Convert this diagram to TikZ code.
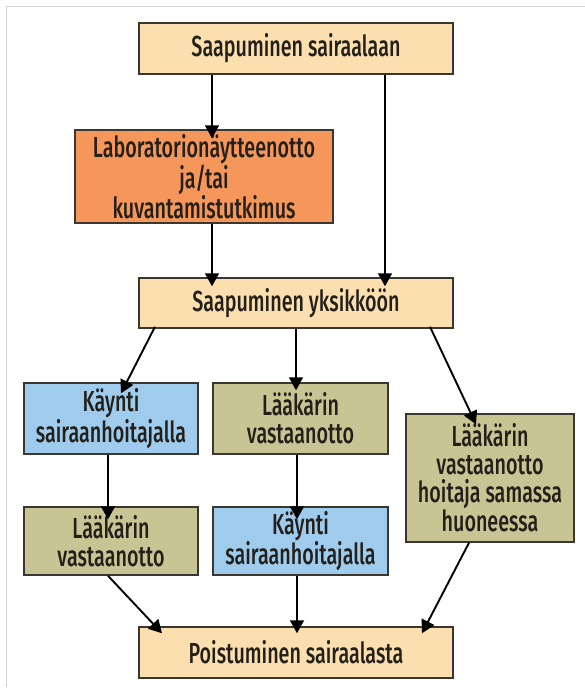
\documentclass[tikz,border=0pt]{standalone}
\usepackage{fontspec}
\setmainfont{Fira Sans Medium}[FakeStretch=0.68]
\usepackage{xcolor}
\usetikzlibrary{arrows.meta}
\definecolor{cream}{HTML}{FCDFAE}
\definecolor{orangebox}{HTML}{F5965A}
\definecolor{bluebox}{HTML}{9FCBEC}
\definecolor{olivebox}{HTML}{C9C493}
\definecolor{edge}{HTML}{3B3630}
\definecolor{frame}{HTML}{D4D4D4}
\definecolor{textdark}{HTML}{231F1A}
\tikzset{
  box/.style={draw=edge, line width=1.5pt, align=center, text=textdark,
    font=\fontsize{29}{28}\selectfont, inner sep=2pt},
  arr/.style={-{Triangle[width=14pt,length=13pt]}, line width=1.9pt}
}

\begin{document}
\begin{tikzpicture}[x=1pt,y=-1pt]
\useasboundingbox[fill=white] (0,0) rectangle (585,690);
\draw[frame, line width=1.5pt] (6.5,687) -- (6.5,6.5) -- (585,6.5);
% nodes
\node[box, fill=cream, minimum width=314, minimum height=51] (arrive) at (296,48.5) {Saapuminen sairaalaan};
\node[box, fill=orangebox, minimum width=258, minimum height=93] (lab) at (204,176.5) {Laboratorionäytteenotto\\ja/tai\\kuvantamistutkimus};
\node[box, fill=cream, minimum width=314, minimum height=50] (unit) at (296,303) {Saapuminen yksikköön};
\node[box, fill=bluebox, minimum width=174, minimum height=71] (nurseA) at (111,418.5) {Käynti\\sairaanhoitajalla};
\node[box, fill=olivebox, minimum width=175, minimum height=71] (doctorA) at (300.5,418.5) {Lääkärin\\vastaanotto};
\node[box, fill=olivebox, minimum width=168, minimum height=128] (joint) at (490,478) {Lääkärin\\vastaanotto\\hoitaja samassa\\huoneessa};
\node[box, fill=olivebox, minimum width=174, minimum height=68] (doctorB) at (111,541) {Lääkärin\\vastaanotto};
\node[box, fill=bluebox, minimum width=175, minimum height=68] (nurseB) at (300.5,541) {Käynti\\sairaanhoitajalla};
\node[box, fill=cream, minimum width=314, minimum height=51] (leave) at (296,652.5) {Poistuminen sairaalasta};
% arrows
\draw[arr] ([xshift=-84]arrive.south) -- ([xshift=8,yshift=-9]lab.north);
\draw[arr] ([xshift=89]arrive.south) -- ([xshift=89,yshift=-9]unit.north);
\draw[arr] ([xshift=8]lab.south) -- ([xshift=-84,yshift=-9]unit.north);
\draw[arr] ([xshift=-141,yshift=2]unit.south) -- ([xshift=10,yshift=-11]nurseA.north);
\draw[arr] (unit.south) -- ([xshift=-4.5,yshift=-8]doctorA.north);
\draw[arr] ([xshift=134,yshift=2]unit.south) -- ([xshift=-14,yshift=-11]joint.north);
\draw[arr] ([xshift=-3]nurseA.south) -- ([xshift=-3,yshift=-13]doctorB.north);
\draw[arr] ([xshift=-3.5]doctorA.south) -- ([xshift=-3.5,yshift=-13]nurseB.north);
\draw[arr] ([xshift=-3]doctorB.south) -- ([xshift=-134,yshift=-7]leave.north);
\draw[arr] ([xshift=-3.5]nurseB.south) -- ([xshift=1,yshift=-7]leave.north);
\draw[arr] ([xshift=-21]joint.south) -- ([xshift=126,yshift=-7]leave.north);
\end{tikzpicture}
\end{document}
